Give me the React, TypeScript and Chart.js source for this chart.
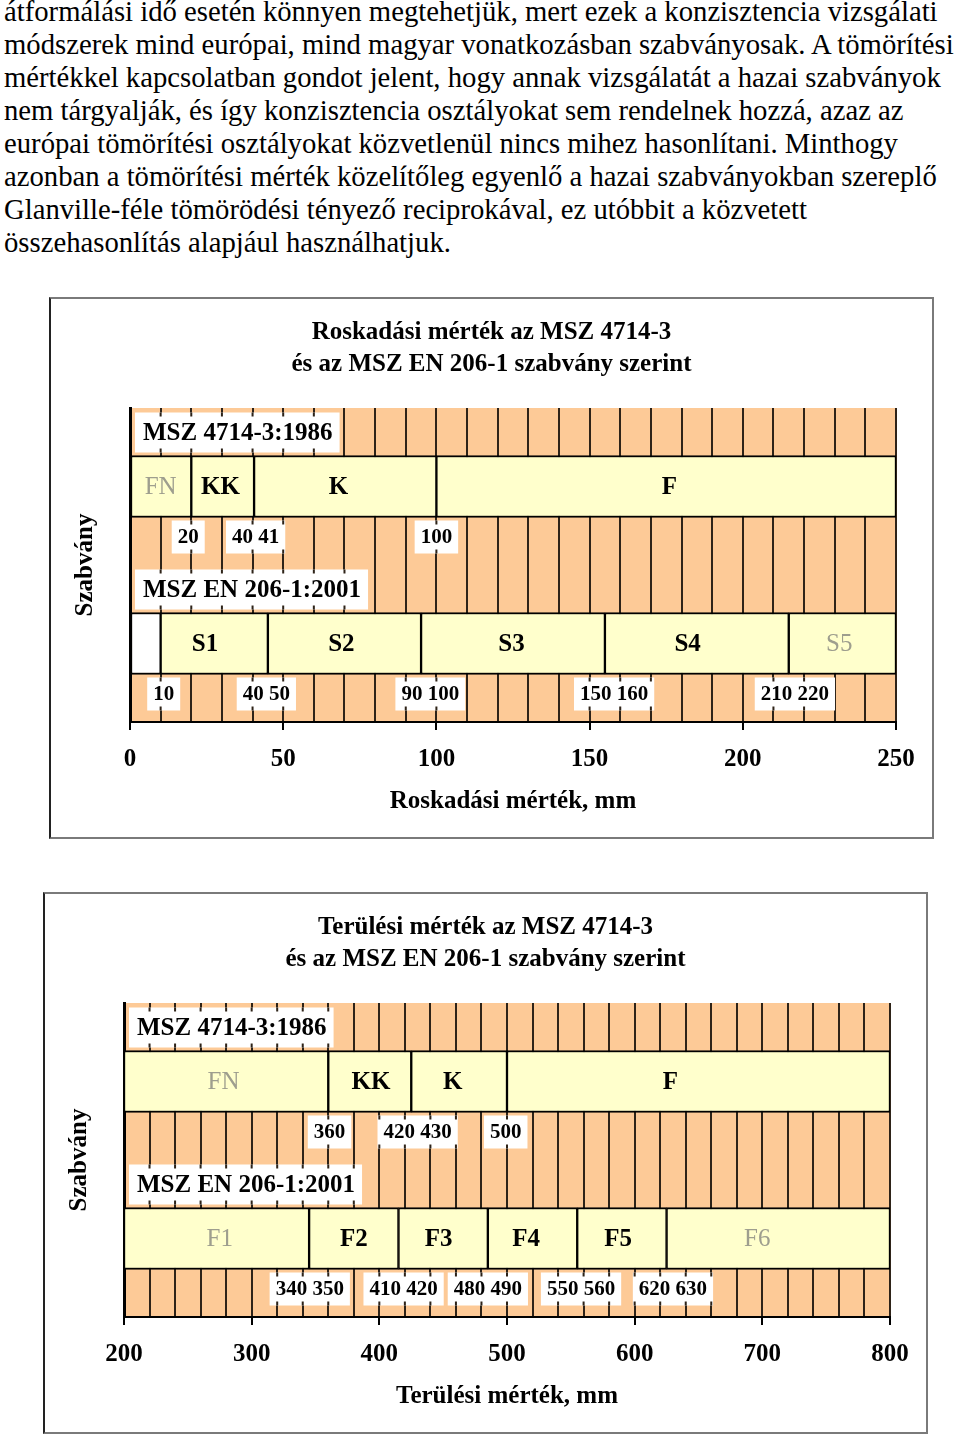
import React, { useEffect, useRef } from 'react';
import { Chart, registerables } from 'chart.js';

Chart.register(...registerables);

// ---------- text ----------
const paragraphLines = [
  'átformálási idő esetén könnyen megtehetjük, mert ezek a konzisztencia vizsgálati',
  'módszerek mind európai, mind magyar vonatkozásban szabványosak. A tömörítési',
  'mértékkel kapcsolatban gondot jelent, hogy annak vizsgálatát a hazai szabványok',
  'nem tárgyalják, és így konzisztencia osztályokat sem rendelnek hozzá, azaz az',
  'európai tömörítési osztályokat közvetlenül nincs mihez hasonlítani. Minthogy',
  'azonban a tömörítési mérték közelítőleg egyenlő a hazai szabványokban szereplő',
  'Glanville-féle tömörödési tényező reciprokával, ez utóbbit a közvetett',
  'összehasonlítás alapjául használhatjuk.',
];

const standards = ['MSZ 4714-3:1986', 'MSZ EN 206-1:2001'];
const yAxisTitle = 'Szabvány';

// ---------- Chart 1: Roskadási mérték ----------
const roskTitle = ['Roskadási mérték az MSZ 4714-3', 'és az MSZ EN 206-1 szabvány szerint'];
const roskAxisTitle = 'Roskadási mérték, mm';
const roskMin = 0;
const roskMax = 250;
const roskGridStep = 10;
const roskLabelStep = 50;
const roskMszClasses = ['FN', 'KK', 'K', 'F'];
const roskMszRanges = [[0, 20], [20, 40.5], [40.5, 100], [100, 250]];
const roskMszLabelAt = [10, 29.5, 68, 176];
const roskMszBoundLabels = ['20', '40 41', '100'];
const roskMszBoundAt = [19, 41, 100];
const roskEnClasses = ['', 'S1', 'S2', 'S3', 'S4', 'S5'];
const roskEnRanges = [[0, 10], [10, 45], [45, 95], [95, 155], [155, 215], [215, 250]];
const roskEnLabelAt = [5, 24.5, 69, 124.5, 182, 231.5];
const roskEnBoundLabels = ['10', '40 50', '90 100', '150 160', '210 220'];
const roskEnBoundAt = [11, 44.5, 98, 158, 217];

// ---------- Chart 2: Terülési mérték ----------
const terTitle = ['Terülési mérték az MSZ 4714-3', 'és az MSZ EN 206-1 szabvány szerint'];
const terAxisTitle = 'Terülési mérték, mm';
const terMin = 200;
const terMax = 800;
const terGridStep = 20;
const terLabelStep = 100;
const terMszClasses = ['FN', 'KK', 'K', 'F'];
const terMszRanges = [[200, 360], [360, 425], [425, 500], [500, 800]];
const terMszLabelAt = [278, 393.5, 457.5, 628];
const terMszBoundLabels = ['360', '420 430', '500'];
const terMszBoundAt = [361, 430, 499];
const terEnClasses = ['F1', 'F2', 'F3', 'F4', 'F5', 'F6'];
const terEnRanges = [[200, 345], [345, 415], [415, 485], [485, 555], [555, 625], [625, 800]];
const terEnLabelAt = [275, 380, 446.5, 515, 587, 696];
const terEnBoundLabels = ['340 350', '410 420', '480 490', '550 560', '620 630'];
const terEnBoundAt = [345.5, 419, 485, 558, 630];

// ---------- styles ----------
const SERIF = '"Liberation Serif", "Times New Roman", serif';
const PEACH = '#FDCA97';
const BAR_FILL = '#FFFFCC';
const GRID = '#2E2318';
const MUTED = ['FN', 'S5', 'F1', 'F6'];
const BAR_THICKNESS = 62;
const CANVAS_W = 881;
const CANVAS_H = 538;
const BIG = 25;
const SMALL = 21;

type Row = { classes: string[]; ranges: number[][]; labelAt: number[]; boundLabels: string[]; boundAt: number[] };
type Spec = {
  title: string[];
  axisTitle: string;
  min: number;
  max: number;
  gridStep: number;
  labelStep: number;
  rows: Row[];
};

const roskSpec: Spec = {
  title: roskTitle,
  axisTitle: roskAxisTitle,
  min: roskMin,
  max: roskMax,
  gridStep: roskGridStep,
  labelStep: roskLabelStep,
  rows: [
    { classes: roskMszClasses, ranges: roskMszRanges, labelAt: roskMszLabelAt, boundLabels: roskMszBoundLabels, boundAt: roskMszBoundAt },
    { classes: roskEnClasses, ranges: roskEnRanges, labelAt: roskEnLabelAt, boundLabels: roskEnBoundLabels, boundAt: roskEnBoundAt },
  ],
};

const terSpec: Spec = {
  title: terTitle,
  axisTitle: terAxisTitle,
  min: terMin,
  max: terMax,
  gridStep: terGridStep,
  labelStep: terLabelStep,
  rows: [
    { classes: terMszClasses, ranges: terMszRanges, labelAt: terMszLabelAt, boundLabels: terMszBoundLabels, boundAt: terMszBoundAt },
    { classes: terEnClasses, ranges: terEnRanges, labelAt: terEnLabelAt, boundLabels: terEnBoundLabels, boundAt: terEnBoundAt },
  ],
};

function buildDatasets(spec: Spec) {
  const out: any[] = [];
  spec.rows.forEach((row, r) => {
    row.classes.forEach((cls, i) => {
      out.push({
        label: cls,
        rowIndex: r,
        classIndex: i,
        data: spec.rows.map((_, k) => (k === r ? row.ranges[i] : null)),
        backgroundColor: cls === '' ? '#FFFFFF' : BAR_FILL,
        borderColor: '#000000',
        borderWidth: { top: 2, bottom: 2, left: 1.5, right: 1.5 },
        borderSkipped: false,
        grouped: false,
        barThickness: BAR_THICKNESS,
      });
    });
  });
  return out;
}

function makeOverlay(spec: Spec) {
  return {
    id: 'overlay',
    beforeDraw(chart: any) {
      const { ctx, chartArea: a } = chart;
      ctx.save();
      ctx.fillStyle = PEACH;
      ctx.fillRect(a.left, a.top, a.right - a.left, a.bottom - a.top);
      ctx.restore();
    },
    afterDatasetsDraw(chart: any) {
      const { ctx, chartArea: area } = chart;
      const xs = chart.scales.x;
      const ys = chart.scales.y;

      const stubs = (bx: number, by: number, w: number, h: number) => {
        ctx.save();
        ctx.strokeStyle = GRID;
        ctx.lineWidth = 2;
        for (let v = spec.min; v <= spec.max; v += spec.gridStep) {
          const px = xs.getPixelForValue(v);
          if (px > bx + 1 && px < bx + w - 1) {
            ctx.beginPath();
            ctx.moveTo(px, by);
            ctx.lineTo(px, by + 4);
            ctx.moveTo(px, by + h - 4);
            ctx.lineTo(px, by + h);
            ctx.stroke();
          }
        }
        ctx.restore();
      };

      ctx.save();
      ctx.textAlign = 'center';
      ctx.textBaseline = 'middle';
      // class labels inside bars
      chart.data.datasets.forEach((ds: any, di: number) => {
        const meta = chart.getDatasetMeta(di);
        meta.data.forEach((el: any, i: number) => {
          if (ds.data[i] == null || !ds.label) return;
          const p = el.getProps(['y'], true);
          const at = spec.rows[ds.rowIndex].labelAt[ds.classIndex];
          const muted = MUTED.includes(ds.label);
          ctx.font = `${muted ? 'normal' : 'bold'} ${BIG}px ${SERIF}`;
          ctx.fillStyle = muted ? '#9E9E8E' : '#000000';
          ctx.fillText(ds.label, xs.getPixelForValue(at), p.y + 1);
        });
      });

      // standard names and boundary values
      const names: string[] = chart.data.labels;
      names.forEach((name, r) => {
        const cy = ys.getPixelForValue(r);
        const half = BAR_THICKNESS / 2;
        ctx.font = `bold ${BIG}px ${SERIF}`;
        const nw = ctx.measureText(name).width + 15;
        const nx = area.left + 5;
        const nh = 40;
        const ny = cy - half - 3 - nh;
        ctx.fillStyle = '#FFFFFF';
        ctx.fillRect(nx, ny, nw, nh);
        stubs(nx, ny, nw, nh);
        ctx.fillStyle = '#000000';
        ctx.textAlign = 'left';
        ctx.fillText(name, nx + 8, ny + nh / 2 + 1);

        const row = spec.rows[r];
        ctx.font = `bold ${SMALL}px ${SERIF}`;
        row.boundLabels.forEach((txt, k) => {
          const w = ctx.measureText(txt).width + 12;
          const h = 33;
          const bx = xs.getPixelForValue(row.boundAt[k]) - w / 2;
          const by = cy + half + 3;
          ctx.fillStyle = '#FFFFFF';
          ctx.fillRect(bx, by, w, h);
          stubs(bx, by, w, h);
          ctx.fillStyle = '#000000';
          ctx.textAlign = 'center';
          ctx.fillText(txt, bx + w / 2, by + h / 2 + 1);
        });
      });
      ctx.restore();
    },
  };
}

function StandardsChart({ spec, left, top }: { spec: Spec; left: number; top: number }) {
  const ref = useRef<HTMLCanvasElement>(null);
  useEffect(() => {
    if (!ref.current) return;
    const font = { family: SERIF, size: BIG, weight: 'bold' as const };
    const chart = new Chart(ref.current, {
      type: 'bar',
      data: { labels: standards, datasets: buildDatasets(spec) },
      options: {
        animation: false,
        responsive: false,
        devicePixelRatio: 1,
        indexAxis: 'y',
        layout: { padding: 0 },
        plugins: {
          legend: { display: false },
          tooltip: { enabled: false },
          title: {
            display: true,
            text: spec.title,
            color: '#000000',
            font: { family: SERIF, size: BIG, weight: 'bold', lineHeight: '32px' },
            padding: { top: 18, bottom: 27 },
          },
        },
        scales: {
          x: {
            type: 'linear',
            position: 'bottom',
            min: spec.min,
            max: spec.max,
            afterFit: (s: any) => {
              s.height = 115;
            },
            ticks: {
              stepSize: spec.gridStep,
              maxTicksLimit: 1000,
              autoSkip: false,
              maxRotation: 0,
              color: '#000000',
              font,
              padding: 15,
              callback: (v: any) => (Number(v) % spec.labelStep === 0 ? String(v) : ''),
            },
            grid: {
              color: GRID,
              lineWidth: 2,
              drawTicks: true,
              tickLength: 8,
              tickWidth: 2,
              tickColor: (c: any) =>
                c.tick && Number(c.tick.value) % spec.labelStep === 0 ? '#000000' : 'rgba(0,0,0,0)',
            },
            border: { display: true, color: '#000000', width: 2 },
            title: {
              display: true,
              text: spec.axisTitle,
              color: '#000000',
              font,
              padding: { top: 0, bottom: 20 },
            },
          },
          y: {
            type: 'category',
            position: 'left',
            offset: true,
            afterFit: (s: any) => {
              s.width = 79;
            },
            ticks: { display: false },
            grid: { display: false },
            border: { display: true, color: '#000000', width: 3 },
            title: {
              display: true,
              text: yAxisTitle,
              color: '#000000',
              font,
              padding: { top: 20, bottom: 0 },
            },
          },
          yRight: {
            type: 'category',
            position: 'right',
            display: true,
            afterFit: (s: any) => {
              s.width = 36;
            },
            ticks: { display: false },
            grid: { display: false },
            border: { display: false },
          },
        },
      } as any,
      plugins: [makeOverlay(spec)],
    });
    return () => chart.destroy();
  }, [spec]);

  return (
    <div
      style={{
        position: 'absolute',
        left,
        top,
        width: CANVAS_W,
        height: CANVAS_H,
        borderTop: '2px solid #7A7A7A',
        borderRight: '2px solid #7A7A7A',
        borderBottom: '2px solid #7A7A7A',
        borderLeft: '2px solid #222222',
        background: '#FFFFFF',
      }}
    >
      <canvas ref={ref} width={CANVAS_W} height={CANVAS_H} style={{ display: 'block' }} />
    </div>
  );
}

export default function App() {
  return (
    <div
      style={{
        position: 'absolute',
        left: 0,
        top: 0,
        width: 960,
        height: 1442,
        background: '#FFFFFF',
        overflow: 'hidden',
      }}
    >
      <div
        style={{
          position: 'absolute',
          left: 4,
          top: -5,
          fontFamily: SERIF,
          fontSize: 28.7,
          lineHeight: '33px',
          color: '#000000',
          whiteSpace: 'nowrap',
        }}
      >
        {paragraphLines.map((line, i) => (
          <div key={i}>{line}</div>
        ))}
      </div>
      <StandardsChart spec={roskSpec} left={49} top={297} />
      <StandardsChart spec={terSpec} left={43} top={892} />
    </div>
  );
}
